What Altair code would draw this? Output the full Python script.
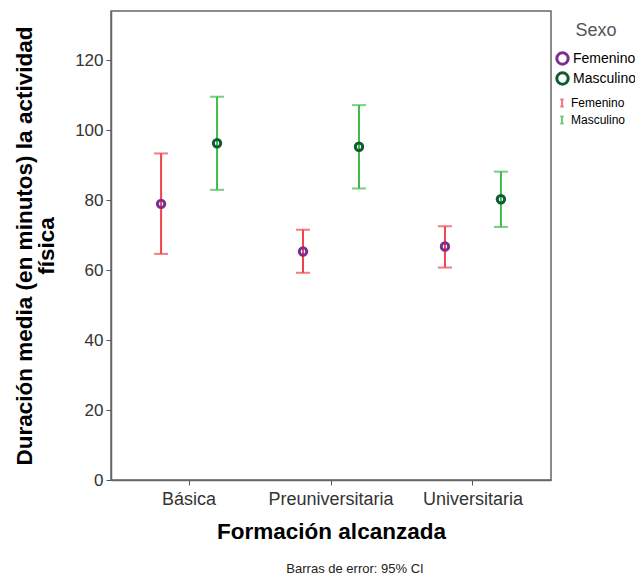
import altair as alt
import pandas as pd

categories = ["Básica", "Preuniversitaria", "Universitaria"]
sexes = ["Femenino", "Masculino"]
mean_fem = [78.9, 65.3, 66.7]
low_fem = [64.6, 59.2, 60.7]
high_fem = [93.3, 71.5, 72.5]
mean_masc = [96.2, 95.2, 80.2]
low_masc = [82.9, 83.3, 72.3]
high_masc = [109.5, 107.1, 88.1]
y_ticks = [0, 20, 40, 60, 80, 100, 120]

rows = []
for i, c in enumerate(categories):
    rows.append({"Formacion": c, "Sexo": "Femenino", "mean": mean_fem[i], "low": low_fem[i], "high": high_fem[i]})
    rows.append({"Formacion": c, "Sexo": "Masculino", "mean": mean_masc[i], "low": low_masc[i], "high": high_masc[i]})
df = pd.DataFrame(rows)

FONT = "Liberation Sans"

x_enc = alt.X("Formacion:N", sort=categories,
              scale=alt.Scale(paddingInner=0, paddingOuter=0.05),
              axis=alt.Axis(title="Formación alcanzada", labelAngle=0, labelFontSize=18,
                            labelColor="#333", labelPadding=5, tickSize=5, tickColor="#555",
                            domainColor="#666", domainWidth=1.5, titleFontSize=22.5,
                            titleFontWeight="bold", titlePadding=12, titleColor="#000"))
xo_enc = alt.XOffset("Sexo:N", sort=sexes, scale=alt.Scale(paddingInner=0, paddingOuter=0.268))

y_scale = alt.Scale(domain=[0, 134], nice=False, zero=True)
y_axis = alt.Axis(title=["Duración media (en minutos) la actividad", "física"], values=y_ticks,
                  labelFontSize=17, labelColor="#333", labelPadding=3, tickSize=5, tickColor="#555",
                  domainColor="#666", domainWidth=1.5, grid=False, titleFontSize=22.5,
                  titleFontWeight="bold", titlePadding=16, titleColor="#000", titleLineHeight=22)

err_color = alt.Color("Sexo:N", sort=sexes,
                      scale=alt.Scale(domain=sexes, range=["#f0434c", "#3dbb4b"]),
                      legend=alt.Legend(title=None, orient="none", legendX=445, legendY=85,
                                        symbolType="M-0.5,-1H0.5M0,-1V1M-0.5,1H0.5",
                                        symbolSize=50, symbolStrokeWidth=2, labelFontSize=12,
                                        labelFont=FONT, labelColor="#000", rowPadding=3,
                                        clipHeight=14, labelOffset=3))

base = alt.Chart(df)

rules = base.mark_rule(strokeWidth=2).encode(
    x=x_enc, xOffset=xo_enc,
    y=alt.Y("low:Q", scale=y_scale, axis=y_axis), y2="high:Q",
    color=err_color)

cap_low = base.mark_tick(size=14, thickness=2, orient="horizontal").encode(
    x=x_enc, xOffset=xo_enc, y=alt.Y("low:Q", scale=y_scale, axis=y_axis), color=err_color)
cap_high = base.mark_tick(size=14, thickness=2, orient="horizontal").encode(
    x=x_enc, xOffset=xo_enc, y=alt.Y("high:Q", scale=y_scale, axis=y_axis), color=err_color)

points = base.transform_calculate(SexoP="datum.Sexo").mark_point(
    shape="circle", filled=False, size=55, strokeWidth=3, opacity=1).encode(
    x=x_enc, xOffset=xo_enc, y=alt.Y("mean:Q", scale=y_scale, axis=y_axis),
    stroke=alt.Stroke("SexoP:N", sort=sexes,
                      scale=alt.Scale(range=["#7d2f8e", "#0f5a30"]),
                      legend=alt.Legend(title="Sexo", orient="none", legendX=444, legendY=11,
                                        titleFontSize=18, titleFontWeight="normal", titleColor="#555",
                                        titleFont=FONT, titleAnchor="middle", titlePadding=10,
                                        symbolType="circle", symbolSize=130, symbolStrokeWidth=3,
                                        symbolFillColor="transparent", clipHeight=17,
                                        labelFontSize=14, labelFont=FONT, labelColor="#000",
                                        rowPadding=3, labelOffset=3)))

chart = alt.layer(rules, cap_low, cap_high, points).properties(
    width=440, height=469,
    padding={"left": 103, "top": 3, "right": 84, "bottom": 99},
    autosize=alt.AutoSizeParams(type="none"),
    title=alt.TitleParams("Barras de error: 95% CI", orient="bottom", anchor="middle",
                          fontSize=13, fontWeight="normal", color="#222", font=FONT,
                          dx=24, offset=20)
).configure(font=FONT).configure_view(stroke="#666", strokeWidth=1.5)

chart.save("out.html", embed_options={"renderer": "svg", "actions": False})
